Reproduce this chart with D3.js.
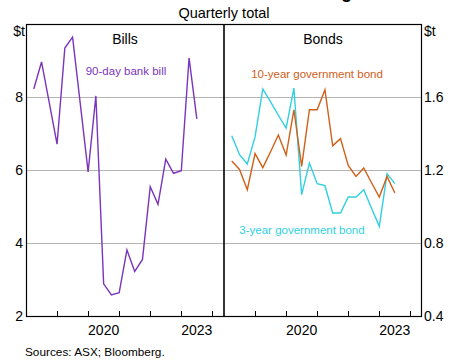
<!DOCTYPE html>
<html>
<head>
<meta charset="utf-8">
<script src="https://cdn.jsdelivr.net/npm/d3@7"></script>
<style>
  body { margin: 0; background: #fff; }
  text { font-family: "Liberation Sans", Arial, sans-serif; }
</style>
</head>
<body>
<div id="chart"></div>
<script>
const quarters = ['Mar-2018','Jun-2018','Sep-2018','Dec-2018','Mar-2019','Jun-2019','Sep-2019','Dec-2019',
  'Mar-2020','Jun-2020','Sep-2020','Dec-2020','Mar-2021','Jun-2021','Sep-2021','Dec-2021',
  'Mar-2022','Jun-2022','Sep-2022','Dec-2022','Mar-2023','Jun-2023'];
const bankBill = [8.22, 8.96, 7.84, 6.71, 9.34, 9.64, 7.80, 5.95, 8.03, 2.88, 2.58,
  2.64, 3.81, 3.22, 3.55, 5.54, 5.06, 6.30, 5.91, 5.98, 9.07, 7.40];
const bond10 = [1.249, 1.203, 1.092, 1.29, 1.213, 1.30, 1.392, 1.282, 1.53, 1.22, 1.53,
  1.53, 1.64, 1.333, 1.372, 1.225, 1.165, 1.211, 1.13, 1.052, 1.165, 1.074];
const bond3 = [1.388, 1.284, 1.233, 1.381, 1.644, 1.573, 1.50, 1.43, 1.649, 1.065, 1.238,
  1.125, 1.114, 0.964, 0.964, 1.052, 1.052, 1.092, 0.99, 0.891, 1.180, 1.125];
const leftTicks = [2, 4, 6, 8];
const rightTicks = [0.4, 0.8, 1.2, 1.6];
const yearTicks = [2019, 2020, 2021, 2022, 2023, 2024];
const yearLabels = [2020, 2023];

const width = 451, height = 361;
const plotTop = 24, plotBottom = 316, plotLeft = 26, plotMid = 224, plotRight = 422;
const monthIdx = { Mar: 3, Jun: 6, Sep: 9, Dec: 12 };
// quarter end as decimal year
const qDate = q => { const [m, y] = q.split('-'); return +y + monthIdx[m] / 12; };

const svg = d3.select('#chart').append('svg')
  .attr('width', width).attr('height', height);

const xL = d3.scaleLinear().domain([2018, 2024.375]).range([plotLeft, plotMid]);
const xR = d3.scaleLinear().domain([2018, 2024.375]).range([plotMid, plotRight]);
const yL = d3.scaleLinear().domain([2, 10]).range([plotBottom, plotTop]);
const yR = d3.scaleLinear().domain([0.4, 2.0]).range([plotBottom, plotTop]);

// title, only the descender of its g shows in the picture
svg.append('text').attr('x', 352).attr('y', -1.6).attr('text-anchor', 'end')
  .style('font-size', '18px').style('font-weight', 'bold')
  .text('Bank Bill and Bond Futures Trading');
svg.append('text').attr('x', plotMid).attr('y', 18).attr('text-anchor', 'middle')
  .style('font-size', '14.5px').text('Quarterly total');

// gridlines
svg.append('g').selectAll('line').data(leftTicks.slice(1)).enter().append('line')
  .attr('x1', plotLeft).attr('x2', plotRight)
  .attr('y1', d => yL(d) + 0.5).attr('y2', d => yL(d) + 0.5)
  .attr('stroke', '#b4b4b4').attr('stroke-width', 1);

// x ticks
[xL, xR].forEach(x => {
  svg.append('g').selectAll('line').data(yearTicks).enter().append('line')
    .attr('x1', d => Math.round(x(d)) + 0.5).attr('x2', d => Math.round(x(d)) + 0.5)
    .attr('y1', plotBottom).attr('y2', plotBottom - 5)
    .attr('stroke', '#000').attr('stroke-width', 1);
  svg.append('g').selectAll('text').data(yearLabels).enter().append('text')
    .attr('x', d => x(d + 0.5)).attr('y', plotBottom + 19)
    .attr('text-anchor', 'middle').style('font-size', '14px').text(d => d);
});

// y tick labels
svg.append('g').selectAll('text').data(leftTicks).enter().append('text')
  .attr('x', plotLeft - 3).attr('y', d => yL(d) + 5).attr('text-anchor', 'end')
  .style('font-size', '14px').text(d => d);
svg.append('g').selectAll('text').data(rightTicks).enter().append('text')
  .attr('x', plotRight + 2).attr('y', d => yR(d) + 5).attr('text-anchor', 'start')
  .style('font-size', '14px').text(d => d.toFixed(1));
svg.append('text').attr('x', plotLeft - 1).attr('y', plotTop + 12).attr('text-anchor', 'end')
  .style('font-size', '14px').text('$t');
svg.append('text').attr('x', plotRight + 2).attr('y', plotTop + 12)
  .style('font-size', '14px').text('$t');

// lines
const lineL = d3.line().x((d, i) => xL(qDate(quarters[i]))).y(d => yL(d));
const lineR = d3.line().x((d, i) => xR(qDate(quarters[i]))).y(d => yR(d));
svg.append('path').datum(bankBill).attr('d', lineL)
  .attr('fill', 'none').attr('stroke', '#7b35bd').attr('stroke-width', 1.4);
svg.append('path').datum(bond3).attr('d', lineR)
  .attr('fill', 'none').attr('stroke', '#30d0e0').attr('stroke-width', 1.4);
svg.append('path').datum(bond10).attr('d', lineR)
  .attr('fill', 'none').attr('stroke', '#d0601a').attr('stroke-width', 1.4);

// frame
svg.append('rect').attr('x', plotLeft + 0.5).attr('y', plotTop + 0.5)
  .attr('width', plotRight - plotLeft - 1).attr('height', plotBottom - plotTop)
  .attr('fill', 'none').attr('stroke', '#000').attr('stroke-width', 1.2);
svg.append('line').attr('x1', plotMid).attr('x2', plotMid).attr('y1', plotTop).attr('y2', plotBottom)
  .attr('stroke', '#000').attr('stroke-width', 1.6);

// panel titles and series labels
svg.append('text').attr('x', (plotLeft + plotMid) / 2).attr('y', plotTop + 20).attr('text-anchor', 'middle')
  .style('font-size', '14px').text('Bills');
svg.append('text').attr('x', (plotMid + plotRight) / 2).attr('y', plotTop + 20).attr('text-anchor', 'middle')
  .style('font-size', '14px').text('Bonds');
svg.append('text').attr('x', 126).attr('y', 75).attr('text-anchor', 'middle')
  .style('font-size', '11.5px').attr('fill', '#7b35bd').text('90-day bank bill');
svg.append('text').attr('x', 317).attr('y', 78).attr('text-anchor', 'middle')
  .style('font-size', '11.5px').attr('fill', '#d0601a').text('10-year government bond');
svg.append('text').attr('x', 302).attr('y', 234).attr('text-anchor', 'middle')
  .style('font-size', '11.5px').attr('fill', '#30d0e0').text('3-year government bond');

svg.append('text').attr('x', 25).attr('y', 356)
  .style('font-size', '11.8px').text('Sources: ASX; Bloomberg.');
</script>
</body>
</html>
